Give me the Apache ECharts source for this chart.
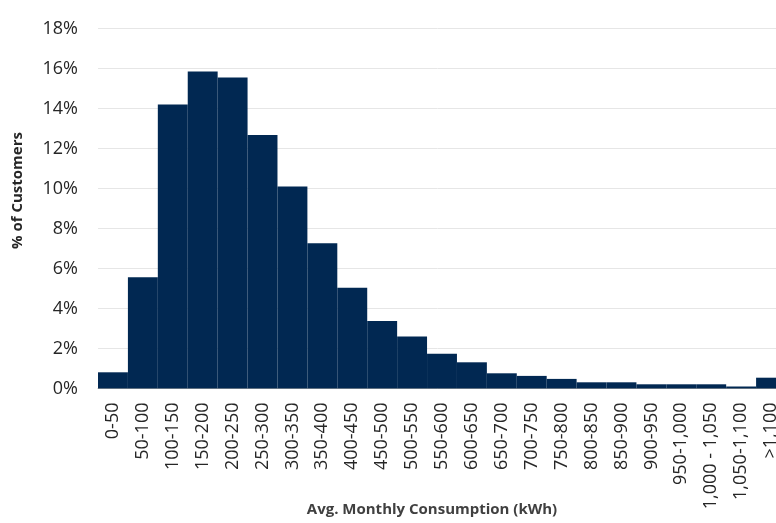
<!DOCTYPE html>
<html>
<head>
<meta charset="utf-8">
<script src="https://cdn.jsdelivr.net/npm/echarts@6/dist/echarts.min.js"></script>
<style>
html,body{margin:0;padding:0;background:#fff;}
#chart{width:776px;height:523px;}
</style>
</head>
<body>
<div id="chart"></div>
<script>
const categories = ["0-50","50-100","100-150","150-200","200-250","250-300","300-350","350-400","400-450","450-500","500-550","550-600","600-650","650-700","700-750","750-800","800-850","850-900","900-950","950-1,000","1,000 - 1,050","1,050-1,100",">1,100"];
const customersPct = [0.81,5.56,14.2,15.85,15.55,12.67,10.1,7.26,5.04,3.37,2.6,1.74,1.31,0.76,0.63,0.48,0.31,0.31,0.21,0.21,0.21,0.1,0.54];
const yTicks = {min:0, max:18, interval:2};

const chart = echarts.init(document.getElementById('chart'), null, {renderer:'canvas'});
chart.setOption({
  animation:false,
  backgroundColor:'#ffffff',
  grid:{left:98, right:-10, top:28.5, bottom:134.5, containLabel:false, outerBoundsMode:'none'},
  xAxis:{
    type:'category',
    data:categories,
    name:'Avg. Monthly Consumption (kWh)',
    nameLocation:'middle',
    nameGap:114,
    nameMoveOverlap:false,
    nameTextStyle:{fontFamily:'Open Sans', fontWeight:'bold', fontSize:15, color:'#404040', padding:[0,20,0,0]},
    axisLine:{show:true, lineStyle:{color:'#bfb8b0', width:1}},
    axisTick:{show:false},
    axisLabel:{rotate:90, interval:0, margin:14, fontFamily:'Open Sans', fontSize:18, color:'#262626'}
  },
  yAxis:{
    type:'value',
    min:yTicks.min, max:yTicks.max, interval:yTicks.interval,
    name:'% of Customers',
    nameLocation:'middle',
    nameGap:73,
    nameMoveOverlap:false,
    nameTextStyle:{fontFamily:'Open Sans', fontWeight:'bold', fontSize:15, color:'#262626', padding:[0,0,0,36]},
    axisLine:{show:false},
    axisTick:{show:false},
    splitLine:{lineStyle:{color:'#e6e6e6', width:1}},
    axisLabel:{margin:20, fontFamily:'Open Sans', fontSize:18, color:'#262626', formatter:v=>v+'%'}
  },
  series:[{
    type:'bar',
    data:customersPct,
    barCategoryGap:'0%',
    itemStyle:{color:'#012852'}
  }]
});
</script>
</body>
</html>
